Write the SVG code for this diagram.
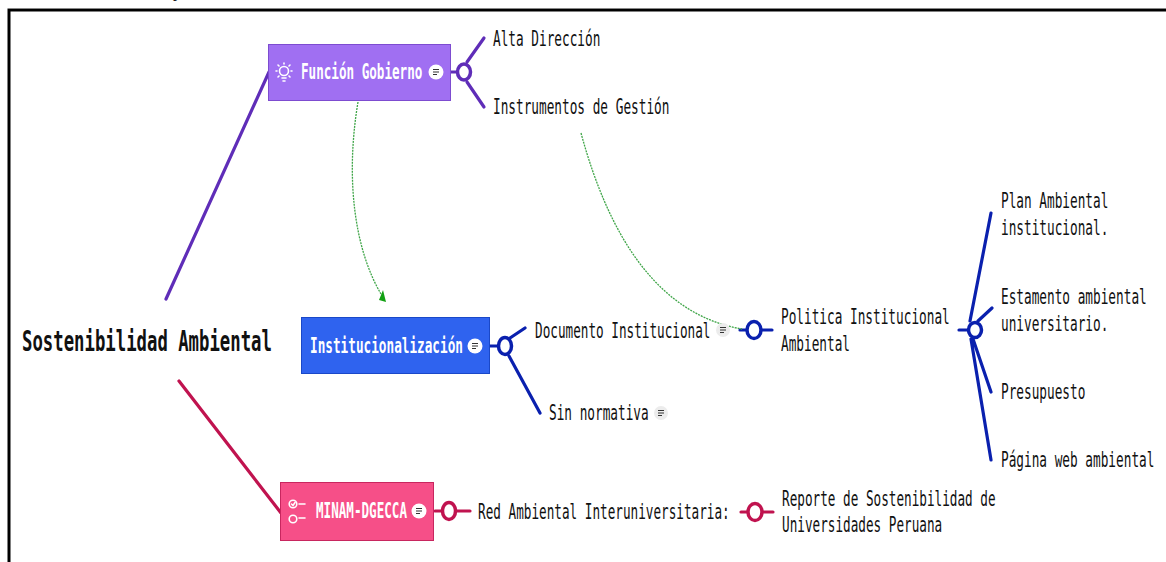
<svg xmlns="http://www.w3.org/2000/svg" width="1166" height="562" viewBox="0 0 1166 562">
<style>
text{font-family:"DejaVu Sans Mono","Liberation Mono",monospace;font-size:21px;fill:#111}
.w{fill:#fff;font-weight:bold;font-size:20.500px}
.root{font-size:28px;font-weight:bold}
.pu{stroke:#5f2db8}.bl{stroke:#0a20ae}.re{stroke:#c0134f}
.c{fill:none;stroke-width:3.200;stroke-linecap:round}
.h{fill:#fff;stroke-width:3.500}
.g{fill:none;stroke:#3fa548;stroke-width:1.300;stroke-dasharray:2 1}
.nl{stroke:#333;stroke-width:1.200;fill:none}
.ic{fill:none;stroke:#fff;stroke-width:1.600;stroke-linecap:round}
</style>
<rect width="1166" height="562" fill="#fff"/>
<g id="frame">
<path d="M9,562V10H1166" fill="none" stroke="#000" stroke-width="3"/>
<path d="M8,8.500H1166" fill="none" stroke="#888" stroke-width="1"/>
<text x="173" y="-3" style="font-family:'Liberation Serif',serif;font-size:16px">p</text>
</g>
<g id="connectors">
<path class="c pu" d="M166,299L269,72"/>
<path class="c re" d="M179,381L281,513"/>
<path class="c pu" d="M451,72H458M467,62L484,38M467,82L484,107"/>
<path class="c bl" d="M490,346H498M510,338L525,328M509,356L540,413"/>
<path class="c bl" d="M740,330H749M761,330H772"/>
<path class="c bl" d="M959,330H968M970,321L991,213M978,321L992,308M973,339L991,392M971,339L991,460"/>
<path class="c re" d="M435,511H443M456,511H470"/>
<path class="c re" d="M741,512H749M762,512H773"/>
<path class="g" d="M358,102C345,180 355,250 381,294"/>
<path d="M383,290L386,302L379,300Z" fill="#12a012"/>
<path class="g" d="M581,133C610,240 660,315 742,329"/>
<ellipse class="h pu" cx="464" cy="72" rx="6.500" ry="8"/>
<ellipse class="h bl" cx="505" cy="346" rx="6.500" ry="8.500"/>
<ellipse class="h bl" cx="754" cy="330" rx="7" ry="8.500"/>
<ellipse class="h bl" cx="975" cy="330" rx="6.500" ry="7.500"/>
<ellipse class="h re" cx="449" cy="511" rx="6.500" ry="8.500"/>
<ellipse class="h re" cx="755" cy="512" rx="7" ry="8.500"/>
</g>
<g id="root"><text class="root" transform="translate(22,351) scale(.618,1)">Sostenibilidad Ambiental</text></g>
<g id="funcion-gobierno">
<rect x="268.500" y="44.500" width="182" height="56" fill="#a06ff2" stroke="#7d4cd0"/>
<circle class="ic" cx="284" cy="71" r="4.500"/>
<path class="ic" d="M282,78H286M283,81H285M284,63V64M276,71H277M291,71H292M278,65L279,66M290,65L289,66M278,77L279,76M290,77L289,76"/>
<text class="w" transform="translate(301,79) scale(.615,1)">Función Gobierno</text>
<circle cx="436" cy="72" r="7.500" fill="#fff"/>
<path class="nl" d="M433,69.500H439M433,72H439M433,74.500H437"/>
</g>
<g id="alta"><text transform="translate(493,46) scale(.607,1)">Alta Dirección</text></g>
<g id="instrumentos"><text transform="translate(493,114) scale(.607,1)">Instrumentos de Gestión</text></g>
<g id="institucionalizacion">
<rect x="301.500" y="317.500" width="188" height="56" fill="#2f63ef" stroke="#1a48c8"/>
<text class="w" transform="translate(310,353) scale(.62,1)">Institucionalización</text>
<circle cx="475" cy="346" r="7.500" fill="#fff"/>
<path class="nl" d="M472,343.500H478M472,346H478M472,348.500H476"/>
</g>
<g id="documento">
<text transform="translate(535,338) scale(.604,1)">Documento Institucional</text>
<circle cx="723" cy="330" r="7" fill="#ececec"/>
<path class="nl" d="M720,327.500H726M720,330H726M720,332.500H724"/>
</g>
<g id="sin-normativa">
<text transform="translate(549,420) scale(.607,1)">Sin normativa</text>
<circle cx="661" cy="413" r="7" fill="#ececec"/>
<path class="nl" d="M658,410.500H664M658,413H664M658,415.500H662"/>
</g>
<g id="politica">
<text transform="translate(781,324) scale(.607,1)">Politica Institucional</text>
<text transform="translate(781,351) scale(.607,1)">Ambiental</text>
</g>
<g id="plan">
<text transform="translate(1001,208) scale(.607,1)">Plan Ambiental</text>
<text transform="translate(1001,235) scale(.607,1)">institucional.</text>
</g>
<g id="estamento">
<text transform="translate(1001,304) scale(.607,1)">Estamento ambiental</text>
<text transform="translate(1001,331) scale(.607,1)">universitario.</text>
</g>
<g id="presupuesto"><text transform="translate(1001,399) scale(.607,1)">Presupuesto</text></g>
<g id="pagina"><text transform="translate(1001,467) scale(.607,1)">Página web ambiental</text></g>
<g id="minam">
<rect x="280.500" y="482.500" width="153" height="58" fill="#f64f88" stroke="#c8265f"/>
<circle class="ic" cx="293" cy="504" r="3.800"/>
<circle class="ic" cx="293" cy="519" r="3.800"/>
<path class="ic" d="M299,504H305M299,518H305M291.500,504L293,505.500L295,502.500"/>
<text class="w" transform="translate(316,518) scale(.615,1)">MINAM-DGECCA</text>
<circle cx="419" cy="511" r="7.500" fill="#fff"/>
<path class="nl" d="M416,508.500H422M416,511H422M416,513.500H420"/>
</g>
<g id="red"><text transform="translate(478,519) scale(.604,1)">Red Ambiental Interuniversitaria:</text></g>
<g id="reporte">
<text transform="translate(782,506) scale(.604,1)">Reporte de Sostenibilidad de</text>
<text transform="translate(782,532) scale(.604,1)">Universidades Peruana</text>
</g>
</svg>
